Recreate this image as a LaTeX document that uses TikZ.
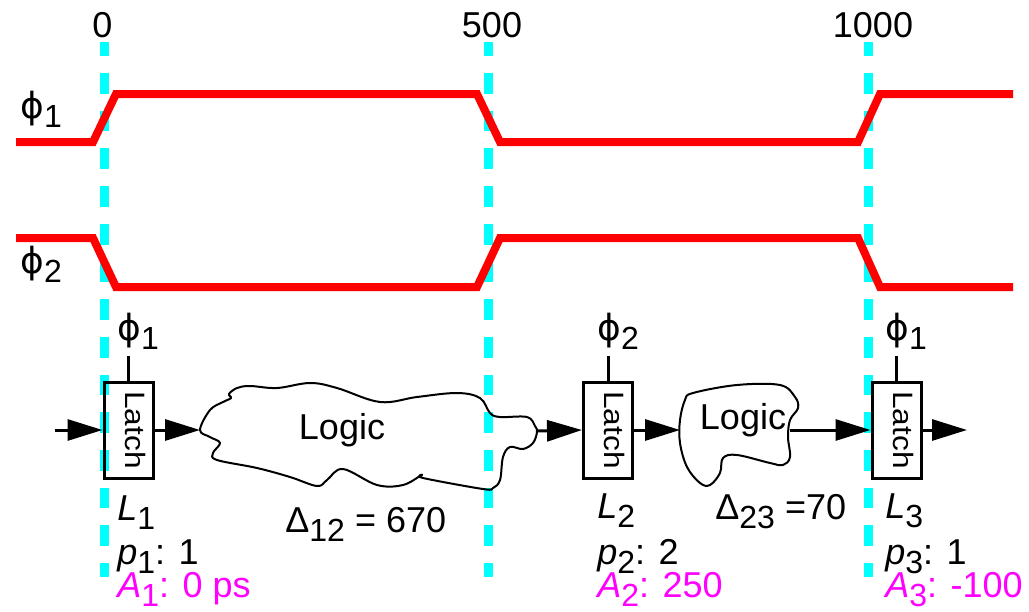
\documentclass[tikz,border=0pt]{standalone}
\usepackage{fontspec}
\setmainfont{Liberation Sans}
\newfontfamily\phifont{DejaVu Sans}
\usetikzlibrary{arrows.meta,positioning}
\newcommand{\sbs}[1]{\raisebox{-4.5pt}{\fontsize{16pt}{16pt}\selectfont #1}}
\newcommand{\clkphi}[1]{{\phifont ϕ}\sbs{#1}}
\newcommand{\latchtext}{\rotatebox{-90}{\raisebox{3.5pt}[\height][\depth]{\scalebox{1.13}[1]{Latch}}}}
\definecolor{clkred}{RGB}{255,0,0}
\definecolor{edgecyan}{RGB}{0,255,255}
\definecolor{arrmag}{RGB}{255,0,255}

\begin{document}
\begin{tikzpicture}[
    x=0.5pt, y=-0.5pt,
    every node/.style={font=\fontsize{18pt}{20pt}\selectfont, inner sep=0pt},
    txt/.style={anchor=base west},
    latch/.style={rectangle, draw, line width=1.5pt, minimum width=24.5pt, minimum height=48pt, font=\fontsize{14pt}{14pt}\selectfont},
    arrow/.style={-{Triangle[length=17.5pt,width=10.5pt]}, line width=1.5pt},
    edge/.style={edgecyan, line width=4.5pt, dash pattern=on 10.35pt off 8.5pt, dash phase=3.35pt},
    clk/.style={clkred, line width=4pt},
    cloud/.style={line width=1pt, line join=round}
]
\useasboundingbox (0,0) rectangle (1029,611);

% clock edges
\foreach \x in {104.5,488.5,868}
    \draw[edge] (\x,42) -- (\x,577);
\node[anchor=base] (t0) at (102.5,37) {0};
\node[anchor=base] (t500) at (492,37) {500};
\node[anchor=base] (t1000) at (873,37) {1000};

% waveforms
\draw[clk] (16,142) -- (93,142) -- (116,94) -- (477,94) -- (500,142) -- (858,142) -- (880,94) -- (1013,94);
\draw[clk] (16,238) -- (93,238) -- (116,287) -- (477,287) -- (500,238) -- (858,238) -- (880,287) -- (1013,287);
\node[txt] (ph1) at (20,118) {\clkphi{1}};
\node[txt] (ph2) at (20,273) {\clkphi{2}};

% latches
\node[latch] (l1) at (128.5,430) {\latchtext};
\node[latch] (l2) at (608,430) {\latchtext};
\node[latch] (l3) at (896.5,430) {\latchtext};
\node[txt] (c1) at (117,340) {\clkphi{1}};
\node[txt] (c2) at (597,340) {\clkphi{2}};
\node[txt] (c3) at (885,340) {\clkphi{1}};
\draw[line width=1.5pt, shorten >=3.5pt] (l1.north) -- (l1.north |- c1.south);
\draw[line width=1.5pt, shorten >=3.5pt] (l2.north) -- (l2.north |- c2.south);
\draw[line width=1.5pt, shorten >=3.5pt] (l3.north) -- (l3.north |- c3.south);

% logic clouds
\draw[cloud] plot[smooth cycle, tension=0.6] coordinates {(200,430) (210,410) (223,402) (231,398) (229,394) (237,388) (250,386) (277,388) (310,383) (337,388) (380,402) (417,397) (457,393) (480,398) (490,413) (500,417) (527,417) (535,426) (537,432) (533,443) (523,449) (510,447) (503,457) (500,480) (493,488) (483,489) (423,478) (422,475) (403,485) (377,485) (343,469) (327,480) (317,486) (290,477) (257,468) (217,460) (213,453) (220,443) (210,437)};
\draw[cloud] plot[smooth cycle, tension=0.6] coordinates {(680,420) (685,400) (693,393) (737,385) (780,385) (795,397) (798,408) (790,420) (788,437) (790,457) (783,465) (770,463) (737,455) (723,458) (720,473) (710,485) (700,483) (687,467) (680,443)};
\node (lg1) at (342,430) {Logic};
\node (lg2) at (743,420) {Logic};
\coordinate (lg1in) at (200,430);
\coordinate (lg1out) at (537,431);
\coordinate (lg2in) at (680,430);
\coordinate (lg2out) at (790,430);
\coordinate (src) at (55,430);
\coordinate (snk) at (967,430);

\draw[arrow] (src) -- (l1.west);
\draw[arrow] (l1.east) -- (lg1in);
\draw[arrow] (lg1out) -- (l2.west);
\draw[arrow] (l2.east) -- (lg2in);
\draw[arrow] (lg2out) -- (l3.west);
\draw[arrow] (l3.east) -- (snk);

% labels
\node[txt] (n1) at (117,520) {\textit{L}\sbs{1}};
\node[txt] (p1) at (117,564) {\textit{p}\sbs{1}: 1};
\node[txt, text=arrmag] (a1) at (117,597) {\textit{A}\sbs{1}: 0 ps};
\node[txt] (n2) at (597,518) {\textit{L}\sbs{2}};
\node[txt] (p2) at (597,564) {\textit{p}\sbs{2}: 2};
\node[txt, text=arrmag] (a2) at (597,597) {\textit{A}\sbs{2}: 250};
\node[txt] (n3) at (885,518) {\textit{L}\sbs{3}};
\node[txt] (p3) at (885,564) {\textit{p}\sbs{3}: 1};
\node[txt, text=arrmag] (a3) at (885,597) {\textit{A}\sbs{3}: -100};
\node[txt] (d12) at (285,532) {Δ\sbs{12} = 670};
\node[txt] (d23) at (715,519) {Δ\sbs{23} =70};
\end{tikzpicture}
\end{document}
